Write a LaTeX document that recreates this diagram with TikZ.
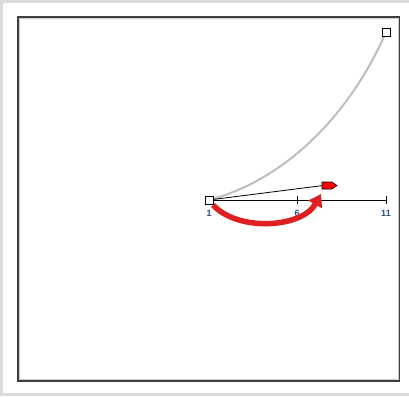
\documentclass[tikz,border=0pt]{standalone}
\usepackage{fontspec}
\setmainfont{Liberation Sans}
\usetikzlibrary{arrows.meta}
\definecolor{framegray}{HTML}{DADADA}
\definecolor{curvegray}{HTML}{BDBDBD}
\definecolor{arrowred}{HTML}{E02020}
\definecolor{labelblue}{HTML}{2A4A8A}
\tikzset{
  handle/.style={draw=black, fill=white, line width=0.9pt, minimum size=8pt, inner sep=0pt},
  ticklabel/.style={font=\fontsize{9}{10}\selectfont\bfseries, text=labelblue, inner sep=0pt},
}
\begin{document}
\begin{tikzpicture}[x=1pt,y=-1pt]
\useasboundingbox (0,0) rectangle (409,396);
\fill[white] (0,0) rectangle (409,396);
% outer light frame
\draw[framegray, line width=3pt] (1.5,1.5) -- (1.5,394.5) -- (409,394.5);
\draw[framegray, line width=3pt] (0,1.5) -- (409,1.5);
% inner frame
\draw[black!75, line width=1.2pt] (18,17) rectangle (399.5,381);
\draw[black!20, line width=0.6pt] (19.5,18.5) rectangle (398,379.5);
% coordinates
\coordinate (o) at (209,200);
\coordinate (t6) at (297,200);
\coordinate (t11) at (386,200);
% gray curve
\draw[curvegray, line width=2pt] (o) .. controls (285,180) and (350,115) .. (386,32);
% axis
\draw[black, line width=0.8pt] (o) -- (t11);
\draw[black, line width=0.8pt] (297,196) -- (297,204);
\draw[black, line width=0.8pt] (386,196) -- (386,204);
% labels
\node[ticklabel] (l1) at (209,213) {1};
\node[ticklabel] (l6) at (297,213) {6};
\node[ticklabel] (l11) at (386,213) {11};
% vector line
\draw[black, line width=0.8pt] (o) -- (323,185.5);
\draw[black, fill=red, line width=0.6pt] (322,182) -- (332,182) -- (337,185.5) -- (332,189) -- (322,189) -- cycle;
% red curved arrow
\draw[arrowred, line width=5.5pt, -{Triangle[length=12pt,width=15pt]}] (213,205) .. controls (238,232) and (302,228) .. (321,194);
% handles
\node[handle] (h0) at (o) {};
\node[handle] (h1) at (386,32) {};
\end{tikzpicture}
\end{document}
